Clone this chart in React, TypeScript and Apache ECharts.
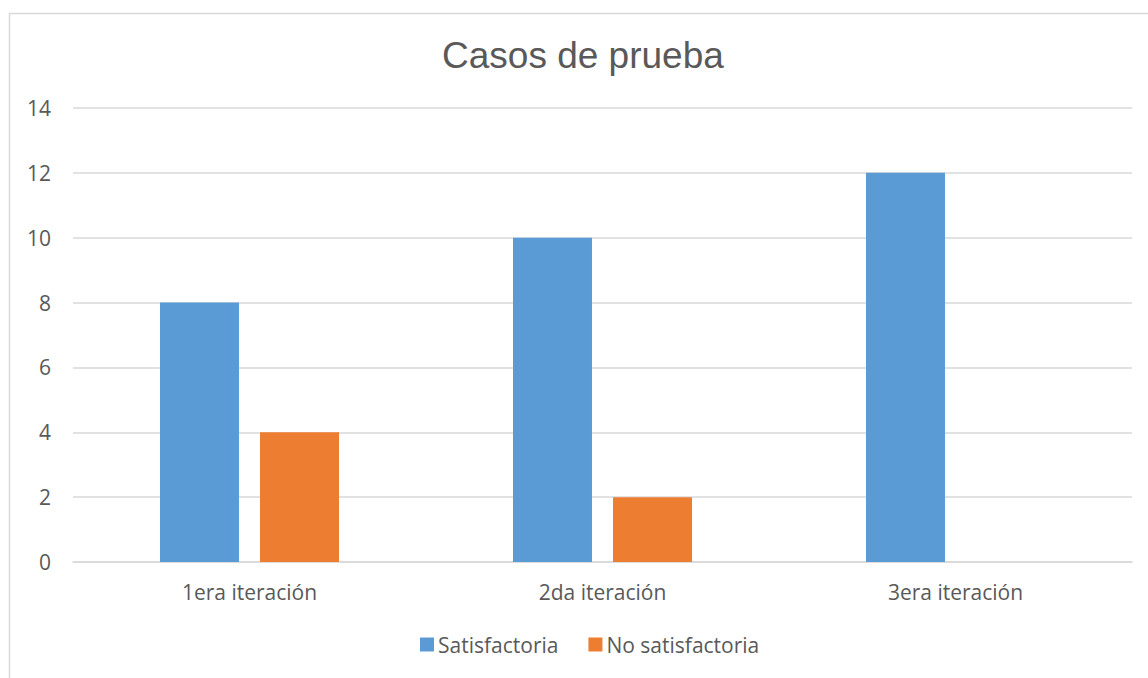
import React, { useEffect, useRef } from "react";
import * as echarts from "echarts";

const categories = ["1era iteración", "2da iteración", "3era iteración"];
const satisfactoria = [8, 10, 12];
const noSatisfactoria = [4, 2, 0];
const seriesNames = ["Satisfactoria", "No satisfactoria"];

const FONT = "'Open Sans', 'Noto Sans', sans-serif";
const TITLE_FONT = "'Liberation Sans', Arial, sans-serif";

export default function App() {
  const ref = useRef<HTMLDivElement>(null);
  useEffect(() => {
    document.body.style.margin = "0";
    const chart = echarts.init(ref.current!, undefined, { renderer: "svg" });
    chart.setOption({
      animation: false,
      backgroundColor: "#ffffff",
      textStyle: { fontFamily: FONT },
      title: {
        text: "Casos de prueba",
        left: 442,
        top: 37,
        padding: 0,
        textStyle: { fontFamily: TITLE_FONT, fontSize: 37, fontWeight: "normal", color: "#595959" },
      },
      graphic: [
        {
          type: "rect",
          shape: { x: 9.5, y: 13.5, width: 1200, height: 700 },
          style: { fill: "none", stroke: "#d9d9d9", lineWidth: 1.5 },
          silent: true,
          z: -1,
        },
      ],
      legend: {
        top: 629,
        left: 415,
        itemWidth: 14,
        itemHeight: 14,
        itemGap: 30,
        icon: "rect",
        textStyle: { fontFamily: FONT, fontSize: 21, color: "#595959", padding: [0, 0, 0, -1] },
        data: seriesNames,
      },
      grid: { left: 73, right: 16, top: 108, bottom: 116 },
      xAxis: {
        type: "category",
        data: categories,
        axisLine: { show: true, lineStyle: { color: "#d9d9d9", width: 1.5 } },
        axisTick: { show: false },
        axisLabel: { fontFamily: FONT, fontSize: 21, color: "#595959", margin: 19 },
      },
      yAxis: {
        type: "value",
        min: 0,
        max: 14,
        interval: 2,
        axisLine: { show: false },
        axisTick: { show: false },
        axisLabel: { fontFamily: FONT, fontSize: 21, color: "#595959", margin: 22 },
        splitLine: { lineStyle: { color: "#d9d9d9", width: 1.5 } },
      },
      series: [
        {
          name: seriesNames[0],
          type: "bar",
          data: satisfactoria,
          barWidth: 79,
          barGap: "26.6%",
          itemStyle: { color: "#5b9bd5" },
        },
        {
          name: seriesNames[1],
          type: "bar",
          data: noSatisfactoria,
          barWidth: 79,
          barGap: "26.6%",
          itemStyle: { color: "#ed7d31" },
        },
      ],
    });
    return () => chart.dispose();
  }, []);
  return <div ref={ref} style={{ width: 1148, height: 678 }} />;
}
